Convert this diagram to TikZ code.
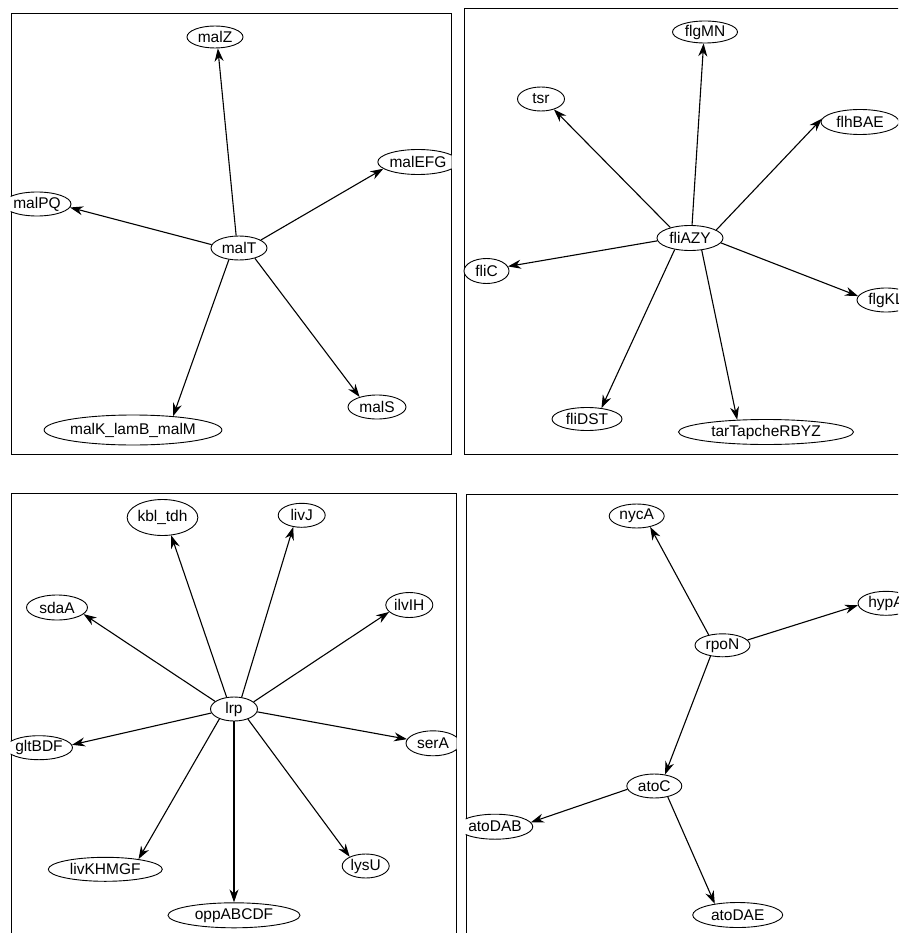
\documentclass[tikz,border=0pt]{standalone}
\usepackage{fontspec}
\setmainfont{Liberation Sans}
\usetikzlibrary{arrows.meta, shapes.geometric}

\begin{document}
\begin{tikzpicture}[
  x=1pt, y=-1pt,
  gene/.style={ellipse, draw, fill=white, line width=0.9pt, inner sep=0pt, minimum height=24pt, font=\fontsize{15.5}{18}\selectfont},
  arrow/.style={-{Stealth[length=13pt, width=9pt]}, line width=1.1pt},
  frame/.style={draw, line width=1pt},
]
\useasboundingbox (0,0) rectangle (898,933);
\clip (0,0) rectangle (898,933);

% Frames
\draw[frame] (11,14) rectangle (451,454);
\draw[frame] (464,9) rectangle (910,454);
\draw[frame] (11,493) rectangle (456,945);
\draw[frame] (466,494) rectangle (910,945);

% malT
\begin{scope}
\clip (10.5,13.5) rectangle (451.5,454.5);
\node[gene, minimum width=56pt] (malT) at (239,248) {malT};
\node[gene, minimum width=56pt, minimum height=22pt] (malZ) at (215,37) {malZ};
\node[gene, minimum width=73pt, minimum height=25pt] (malEFG) at (418,162) {malEFG};
\node[gene, minimum width=68pt] (malPQ) at (37,204) {malPQ};
\node[gene, minimum width=58pt] (malS) at (377,407) {malS};
\node[gene, minimum width=168pt, minimum height=30pt] (malK) at (133,430) {malK\_lamB\_malM};

\draw[arrow] (malT.103) -- (malZ.284);
\draw[arrow] (malT.20) -- (malEFG.191);
\draw[arrow] (malT.173) -- (malPQ.354);
\draw[arrow] (malT.327) -- (malS.150);
\draw[arrow] (malT.229) -- (malK.19);
\end{scope}

% fliAZY
\begin{scope}
\clip (463.5,8.5) rectangle (910,454.5);
\node[gene, minimum width=66pt, minimum height=25pt] (fliAZY) at (690,238) {fliAZY};
\node[gene, minimum width=65pt, minimum height=22pt] (flgMN) at (705,32) {flgMN};
\node[gene, minimum width=47pt] (tsr) at (541,99) {tsr};
\node[gene, minimum width=78pt, minimum height=25pt] (flhBAE) at (860,122) {flhBAE};
\node[gene, minimum width=45pt, minimum height=25pt] (fliC) at (486.5,271) {fliC};
\node[gene, minimum width=58pt] (flgKL) at (886,300) {flgKL};
\node[gene, minimum width=70pt, minimum height=23pt] (fliDST) at (587,419) {fliDST};
\node[gene, minimum width=175pt, minimum height=25pt] (tarT) at (766,432) {tarTapcheRBYZ};

\draw[arrow] (fliAZY.81) -- (flgMN.263);
\draw[arrow] (fliAZY.152) -- (tsr.321);
\draw[arrow] (fliAZY.17) -- (flhBAE.175);
\draw[arrow] (fliAZY.185) -- (fliC.12);
\draw[arrow] (fliAZY.351) -- (flgKL.172);
\draw[arrow] (fliAZY.217) -- (fliDST.37);
\draw[arrow] (fliAZY.314) -- (tarT.157);
\end{scope}

% lrp
\begin{scope}
\clip (10.5,492.5) rectangle (456.5,945);
\node[gene, minimum width=47pt] (lrp) at (234,709) {lrp};
\node[gene, minimum width=66pt, minimum height=36pt] (kbl) at (162.5,517.5) {kbl\_tdh};
\node[gene, minimum width=47pt] (livJ) at (301.7,515.3) {livJ};
\node[gene, minimum width=61pt, minimum height=25pt] (sdaA) at (57,607.5) {sdaA};
\node[gene, minimum width=47pt, minimum height=25pt] (ilvIH) at (409.3,605) {ilvIH};
\node[gene, minimum width=66pt] (gltBDF) at (39,747.7) {gltBDF};
\node[gene, minimum width=54pt, minimum height=25pt] (serA) at (433,743.3) {serA};
\node[gene, minimum width=114pt] (livKHMGF) at (105.3,869.3) {livKHMGF};
\node[gene, minimum width=47pt] (lysU) at (365.7,866) {lysU};
\node[gene, minimum width=132pt, minimum height=25pt] (oppABCDF) at (234,915.3) {oppABCDF};

\draw[arrow] (lrp.122) -- (kbl.296);
\draw[arrow] (lrp.57) -- (livJ.234);
\draw[arrow] (lrp.158) -- (sdaA.346);
\draw[arrow] (lrp.20) -- (ilvIH.199);
\draw[arrow] (lrp.190) -- (gltBDF.5);
\draw[arrow] (lrp.353) -- (serA.171);
\draw[arrow] (lrp.214) -- (livKHMGF.17);
\draw[arrow] (lrp.324) -- (lysU.150);
\draw[arrow] (lrp.south) -- (oppABCDF.north);
\end{scope}

% rpoN
\begin{scope}
\clip (465.5,493.5) rectangle (910,945);
\node[gene, minimum width=55pt, minimum height=23pt] (rpoN) at (722.5,645.3) {rpoN};
\node[gene, minimum width=55pt] (nycA) at (636.7,516) {nycA};
\node[gene, minimum width=56pt] (hypA) at (886,603.3) {hypA};
\node[gene, minimum width=55pt] (atoC) at (654.3,786) {atoC};
\node[gene, minimum width=74pt, minimum height=25pt] (atoDAB) at (495,826.7) {atoDAB};
\node[gene, minimum width=90pt, minimum height=25pt] (atoDAE) at (737.7,915) {atoDAE};

\draw[arrow] (rpoN.143) -- (nycA.321);
\draw[arrow] (rpoN.12) -- (hypA.184);
\draw[arrow] (rpoN.222) -- (atoC.47);
\draw[arrow] (atoC.187) -- (atoDAB.7);
\draw[arrow] (atoC.321) -- (atoDAE.154);
\end{scope}

\end{tikzpicture}
\end{document}
